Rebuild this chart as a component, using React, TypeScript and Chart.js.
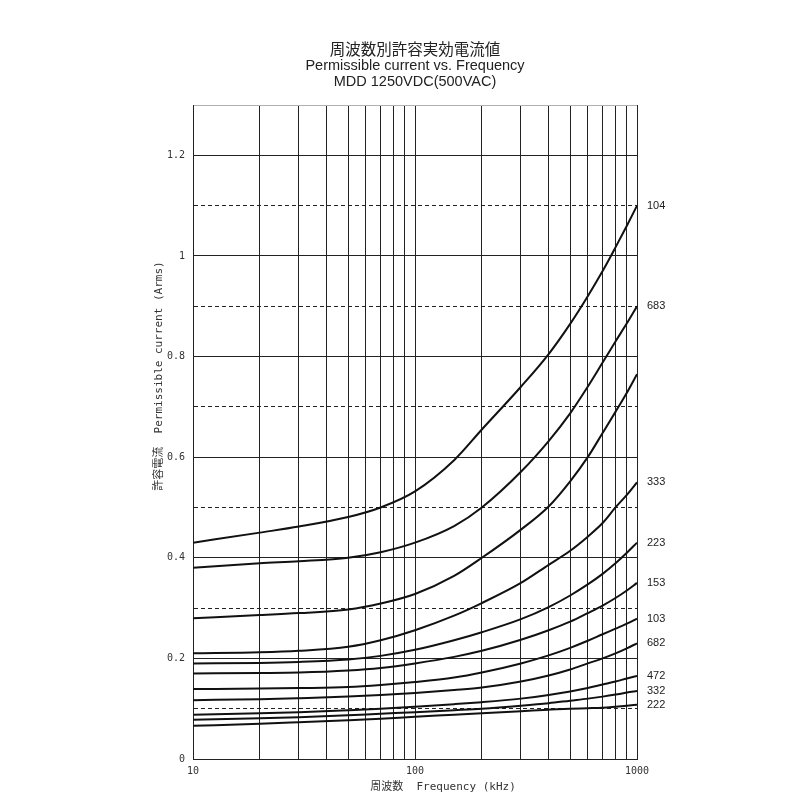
import React, { useEffect, useRef } from 'react';
import { Chart, registerables } from 'chart.js';

Chart.register(...registerables);

// ---------- data ----------
const FREQS = [10, 20, 30, 50, 70, 100, 150, 200, 300, 400, 500, 600, 700, 800, 900, 1000];

const S104 = [0.43, 0.45, 0.462, 0.481, 0.5, 0.532, 0.594, 0.655, 0.74, 0.805, 0.865, 0.92, 0.97, 1.017, 1.06, 1.1];
const S683 = [0.38, 0.389, 0.393, 0.4, 0.411, 0.43, 0.463, 0.5, 0.571, 0.632, 0.687, 0.74, 0.788, 0.83, 0.866, 0.9];
const S_HIDDEN = [0.28, 0.286, 0.29, 0.297, 0.309, 0.328, 0.364, 0.4, 0.456, 0.502, 0.552, 0.6, 0.648, 0.69, 0.728, 0.765];
const S333 = [0.21, 0.212, 0.215, 0.223, 0.236, 0.256, 0.285, 0.31, 0.35, 0.386, 0.414, 0.442, 0.469, 0.5, 0.525, 0.55];
const S223 = [0.19, 0.191, 0.193, 0.198, 0.205, 0.217, 0.236, 0.252, 0.278, 0.302, 0.325, 0.347, 0.368, 0.389, 0.41, 0.43];
const S153 = [0.17, 0.171, 0.172, 0.176, 0.181, 0.19, 0.203, 0.215, 0.237, 0.256, 0.273, 0.29, 0.305, 0.32, 0.335, 0.35];
const S103 = [0.139, 0.14, 0.141, 0.143, 0.147, 0.153, 0.162, 0.172, 0.19, 0.206, 0.221, 0.235, 0.248, 0.259, 0.269, 0.279];
const S682 = [0.117, 0.119, 0.121, 0.124, 0.127, 0.131, 0.137, 0.142, 0.154, 0.166, 0.178, 0.19, 0.2, 0.21, 0.22, 0.23];
const S472 = [0.088, 0.091, 0.093, 0.097, 0.1, 0.104, 0.109, 0.113, 0.12, 0.127, 0.134, 0.141, 0.148, 0.154, 0.16, 0.165];
const S332 = [0.078, 0.081, 0.083, 0.087, 0.09, 0.093, 0.097, 0.1, 0.106, 0.111, 0.116, 0.12, 0.124, 0.128, 0.132, 0.135];
const S222 = [0.066, 0.07, 0.073, 0.077, 0.08, 0.084, 0.088, 0.091, 0.095, 0.098, 0.1, 0.101, 0.102, 0.104, 0.106, 0.108];

const SERIES_NAMES = ['104', '683', '', '333', '223', '153', '103', '682', '472', '332', '222'];
const SERIES_VALUES = [S104, S683, S_HIDDEN, S333, S223, S153, S103, S682, S472, S332, S222];

const X_GRID = [10, 20, 30, 40, 50, 60, 70, 80, 90, 100, 200, 300, 400, 500, 600, 700, 800, 900, 1000];
const X_TICK_LABELS = [10, 100, 1000];
const Y_GRID = [0, 0.1, 0.2, 0.3, 0.4, 0.5, 0.6, 0.7, 0.8, 0.9, 1.0, 1.1, 1.2, 1.3];
const Y_TICK_LABELS = [0, 0.2, 0.4, 0.6, 0.8, 1, 1.2];

const TITLE_LINES = ['周波数別許容実効電流値', 'Permissible current vs. Frequency', 'MDD 1250VDC(500VAC)'];
const X_TITLE = '周波数  Frequency (kHz)';
const Y_TITLE = '許容電流  Permissible current (Arms)';

const MONO = '"DejaVu Sans Mono", "Noto Sans CJK JP", monospace';

const textPlugin = {
  id: 'textPlugin',
  afterDraw(chart: any) {
    const { ctx, chartArea, scales } = chart;
    const cx = (chartArea.left + chartArea.right) / 2;
    ctx.save();
    ctx.fillStyle = '#222';
    ctx.textAlign = 'center';
    ctx.textBaseline = 'middle';
    ctx.font = '15.5px "Noto Sans CJK JP"';
    ctx.fillText(TITLE_LINES[0], cx, 49);
    ctx.font = '14.5px "Liberation Sans", Arial, sans-serif';
    ctx.fillText(TITLE_LINES[1], cx, 66);
    ctx.fillText(TITLE_LINES[2], cx, 82);

    ctx.fillStyle = '#333';
    ctx.font = '11px ' + MONO;
    ctx.fillText(X_TITLE, cx + 28, chartArea.bottom + 28);

    ctx.save();
    ctx.translate(chartArea.left - 34, chartArea.top + 271);
    ctx.rotate(-Math.PI / 2);
    ctx.fillText(Y_TITLE, 0, 0);
    ctx.restore();

    ctx.fillStyle = '#222';
    ctx.textAlign = 'left';
    ctx.font = '11px "Liberation Sans", Arial, sans-serif';
    chart.data.datasets.forEach((ds: any) => {
      if (!ds.label) return;
      const last = ds.data[ds.data.length - 1];
      const y = scales.y.getPixelForValue(last.y);
      ctx.fillText(ds.label, chartArea.right + 10, y);
    });
    ctx.restore();
  },
};

export default function App() {
  const canvasRef = useRef<HTMLCanvasElement | null>(null);

  useEffect(() => {
    const canvas = canvasRef.current;
    if (!canvas) return;
    const chart = new Chart(canvas, {
      type: 'line',
      data: {
        datasets: SERIES_VALUES.map((arr, i) => ({
          label: SERIES_NAMES[i],
          data: FREQS.map((f, j) => ({ x: f, y: arr[j] })),
          borderColor: '#111',
          borderWidth: 2,
          pointRadius: 0,
          fill: false,
          cubicInterpolationMode: 'monotone' as const,
        })),
      },
      options: {
        responsive: false,
        devicePixelRatio: 1,
        animation: false,
        layout: { padding: { left: 145, right: 163, top: 105, bottom: 0 } },
        plugins: {
          legend: { display: false },
          tooltip: { enabled: false },
          title: { display: false },
        },
        scales: {
          x: {
            type: 'logarithmic',
            min: 10,
            max: 1000,
            afterBuildTicks: (s: any) => {
              s.ticks = X_GRID.map((v) => ({ value: v }));
            },
            afterFit: (s: any) => {
              s.height = 41;
            },
            ticks: {
              autoSkip: false,
              maxRotation: 0,
              padding: 6,
              color: '#333',
              font: { family: MONO, size: 10 },
              callback: (v: any) => (X_TICK_LABELS.includes(Number(v)) ? String(v) : ''),
            },
            grid: { color: '#222', lineWidth: 1, drawTicks: false },
            border: { color: '#222', width: 1 },
          },
          y: {
            type: 'linear',
            min: 0,
            max: 1.3,
            afterBuildTicks: (s: any) => {
              s.ticks = Y_GRID.map((v) => ({ value: v }));
            },
            afterFit: (s: any) => {
              s.width = 48;
            },
            ticks: {
              autoSkip: false,
              padding: 8,
              color: '#333',
              font: { family: MONO, size: 10 },
              callback: (v: any) => {
                const t = Y_TICK_LABELS.find((x) => Math.abs(x - Number(v)) < 1e-9);
                return t === undefined ? '' : String(t);
              },
            },
            grid: {
              lineWidth: 1,
              drawTicks: false,
              color: (c: any) =>
                c.tick && Math.abs(c.tick.value - 1.3) < 1e-9 ? '#b0b0b0' : '#222',
            },
            border: {
              color: '#222',
              width: 1,
              dash: (c: any) => {
                if (!c.tick) return [];
                const k = Math.round(c.tick.value * 10);
                return k % 2 === 1 && k !== 13 ? [4, 3] : [];
              },
            },
          },
        },
      },
      plugins: [textPlugin],
    } as any);
    return () => chart.destroy();
  }, []);

  return (
    <div style={{ position: 'absolute', left: 0, top: 0, width: 800, height: 800, background: '#fff' }}>
      <canvas ref={canvasRef} width={800} height={800} style={{ display: 'block' }} />
    </div>
  );
}
